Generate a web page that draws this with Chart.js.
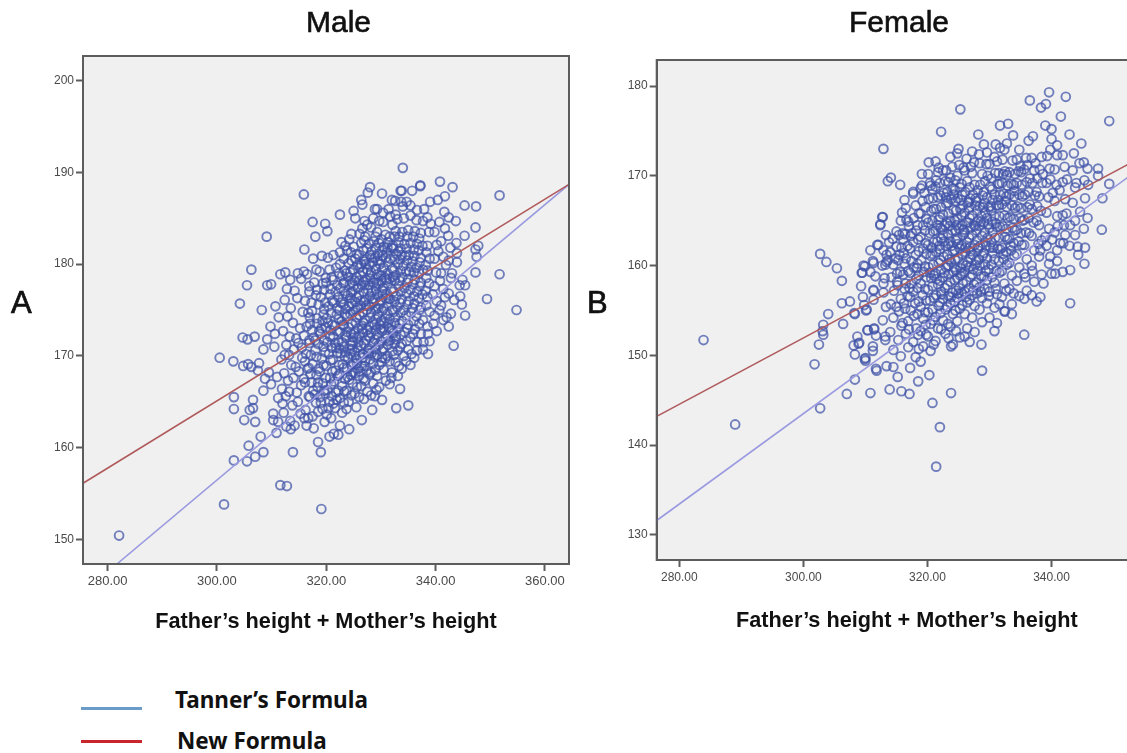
<!DOCTYPE html>
<html>
<head>
<meta charset="utf-8">
<title>Male and female height scatter</title>
<script src="https://cdn.jsdelivr.net/npm/chart.js@4"></script>
<style>
html, body { margin: 0; padding: 0; background: #fff; width: 1127px; height: 753px; overflow: hidden; }
canvas { position: absolute; top: 0; filter: blur(0.4px); }
#maleChart { left: 0; }
#femaleChart { left: 600px; }
.heading { position: absolute; top: 5px; font: 30px "Liberation Sans", sans-serif; color: #111; -webkit-text-stroke: 0.6px #111; white-space: nowrap; }
.letter { position: absolute; font: 31px "Liberation Sans", sans-serif; color: #111; -webkit-text-stroke: 0.7px #111; }
.key { position: absolute; font: bold 22.5px "Noto Sans", sans-serif; color: #111; white-space: nowrap; }
.swatch { position: absolute; left: 81px; width: 61px; height: 3px; }
</style>
</head>
<body>
<canvas id="maleChart" width="600" height="660"></canvas>
<canvas id="femaleChart" width="598" height="660"></canvas>
<div class="heading" style="left:306px">Male</div>
<div class="heading" style="left:849px">Female</div>
<div class="letter" style="left:11px;top:285px">A</div>
<div class="letter" style="left:587px;top:285px">B</div>
<div class="swatch" style="top:707px;background:#6b9bc9"></div>
<div class="key" style="left:175px;top:684px">Tanner’s Formula</div>
<div class="swatch" style="top:740px;background:#c9252c"></div>
<div class="key" style="left:177px;top:725px">New Formula</div>
<script>
const xTitle = "Father’s height + Mother’s height";

// [parents' height sum, child's height]
const malePoints = [
[282.1,150.4],[301.3,153.8],[311.6,155.9],[312.8,155.8],[319.1,153.3],[303.1,158.6],[305.5,158.5],[307,159],[308.5,159.5],[305.8,160.2],
[313.9,159.5],[319,159.5],[318.5,160.6],[308,161.2],[310.9,161.6],[320.6,161.2],[321.4,161.5],[322.2,161.4],[324.2,162],[317.7,162.1],
[316.4,162.4],[313.5,162],[312.7,162.3],[314.2,162.4],[310.3,163],[311.2,162.8],[310.3,163.7],[307,162.8],[305,163],[303.1,164.2],
[306,164.1],[306.6,164.3],[306.6,165.2],[303.1,165.5],[308.5,166.2],[318.5,163.9],[319.7,162.8],[320.9,163.2],[322.5,162.4],[326.5,163],
[328.4,164.1],[332.8,164.3],[335,164.6],[330.2,165.2],[333.5,166.4],[329.2,166.3],[325.5,164.4],[323.7,164.2],[321.6,164.3],[316,163.2],
[316.7,163.2],[334,190.5],[315.9,187.6],[328,188.4],[327.6,187.8],[326.4,187],[326.6,186.5],[330.2,187.7],[333.6,188],[333.8,188],
[332,187],[332.6,186.9],[333.7,186.8],[334.7,186.8],[335.7,188],[337.2,188.6],[337.2,188.5],[340.8,189],[343.1,188.4],[351.7,187.5],
[340.4,187],[341.7,187.4],[345.3,186.4],[347.4,186.3],[341.6,185.7],[343.7,184.7],[347.3,184],[341.7,183.9],[342.3,183.1],[345.3,183.1],
[343.8,182.3],[347.8,182],[347.3,181.6],[347.5,180.8],[343.9,181.2],[343.9,180.2],[347.3,179.1],[351.7,178.9],[344.9,178.3],[344.4,177.7],
[345.4,177.7],[344.5,176.5],[343.4,176.1],[344.8,175.6],[349.4,176.2],[354.8,175],[345.4,174.4],[342.4,173.2],[343.3,171.1],[338.6,170.2],
[309.1,183],[306.3,179.4],[305.5,177.7],[309.2,177.7],[309.9,177.8],[304.2,175.7],[317.5,184.6],[319.8,184.4],[320.2,183.6],[318,183],
[322.5,185.4],[325,185.8],[325.3,185],[329.3,186],[316,181.6],[324.6,183.3],[326.1,183.3],[326.6,183.9],[323.5,182],[322.5,181.3],
[300.5,169.8],[303,169.4],[304.8,168.9],[305.7,169.1],[306.3,168.8],[307.5,168.4],[307.7,169.2],[305.6,171.8],[306.9,172.1],[304.7,172],
[309.2,171.8],[308.5,170.7],[309.5,168.2],[308.8,167.5],[309.9,166.9],[311,167.7],[311.2,165.4],[312,164.8],[310.6,172.4],[311.3,174.2],
[310.7,175.4],[310.5,171],[309.8,173.2],[312.4,170.1],[308.2,175],[311.6,178.9],[312.5,179.1],[313.4,178.3],[314.8,179],[312.8,177.3],
[312.2,163.8],[312.6,165.6],[311.9,166.4],[312.3,168.1],[311.8,169.6],[312.7,171.2],[312.1,172.7],[312.9,174.3],[312.4,176.1],
[313.4,162.9],[313.8,164.6],[313.2,166.1],[314,167.6],[313.6,169],[314.1,170.7],[313.3,172.1],[313.9,173.6],[313.5,175.2],[314.2,177.1],
[315.3,163.7],[314.8,165],[315.4,166.8],[315,168.3],[315.6,169.8],[314.9,171.4],[315.2,173],[315.7,174.8],[314.7,176.3],[315.4,178.4],[315.9,179.2],
[316.2,164.1],[316.8,165.6],[316.1,167.1],[316.6,168.6],[316.3,170.2],[316.9,171.7],[316.4,173.2],[316.7,174.7],[316.1,176],[316.9,177.6],[316.5,178.9],
[317.5,163.4],[318.1,164.9],[317.6,166.2],[318.2,167.9],[317.5,169.1],[318,170.6],[317.7,172],[318.3,173.5],[317.4,174.9],[318.1,176.6],[317.8,178],[318.2,179.4],[317.6,180.6],
[319.3,164.2],[318.9,165.5],[319.4,167],[318.8,168.3],[319.2,169.7],[319.5,171],[318.9,172.4],[319.3,173.8],[319.6,175.1],[319,176.4],[319.4,177.9],[318.8,179.2],[319.2,180.9],
[320.1,163.6],[320.6,165],[320.2,166.3],[320.7,167.6],[320,168.9],[320.5,170.2],[320.2,171.5],[320.8,172.8],[320.1,174.1],[320.4,175.4],[320.7,176.7],[320,178],[320.6,179.4],[320.3,180.7],
[321.3,164.8],[321.8,166],[321.4,167.2],[321.7,168.4],[321.2,169.6],[321.8,170.9],[321.3,172.1],[321.6,173.3],[321.9,174.5],[321.4,175.8],[321.7,177],[321.2,178.3],[321.8,179.6],[321.3,181],
[322.9,163.8],[322.5,165.4],[322.9,166.7],[322.4,168],[323,169.1],[322.6,170.3],[322.9,171.5],[322.5,172.6],[322.8,173.8],[322.4,175],[323,176.2],[322.6,177.4],[322.9,178.7],[322.5,180],[322.8,182.4],
[324.1,165],[323.7,166.2],[324.2,167.4],[323.8,168.6],[324,169.7],[324.3,170.8],[323.7,172],[324.1,173.1],[323.8,174.3],[324.2,175.4],[323.9,176.6],[324.3,177.8],[323.7,179],[324.1,180.1],[323.8,181.5],[324.2,182.7],
[325.2,165.9],[324.8,167],[325.3,168.1],[324.9,169.2],[325.2,170.4],[324.8,171.5],[325.1,172.5],[325.4,173.6],[324.9,174.8],[325.3,175.9],[324.8,177],[325.2,178.2],[324.9,179.4],[325.3,180.6],[325,181.9],
[326,165.5],[326.4,166.7],[326,167.8],[326.5,168.9],[326.1,170],[326.4,171.1],[326,172.2],[326.5,173.3],[326.1,174.4],[326.3,175.5],[326,176.6],[326.5,177.7],[326.2,178.8],[326.4,180],[326,181],[326.4,182.3],
[327.5,166.1],[327.1,167.3],[327.4,168.4],[327.1,169.5],[327.6,170.6],[327.2,171.7],[327.5,172.8],[327.1,173.9],[327.4,175],[327.1,176.1],[327.6,177.2],[327.2,178.3],[327.5,179.4],[327.1,180.5],[327.4,181.7],[327.1,183],[327.5,184.3],
[328.2,165.7],[328.6,167],[328.2,168.2],[328.6,169.2],[328.3,170.3],[328.7,171.4],[328.2,172.5],[328.5,173.6],[328.2,174.7],[328.6,175.8],[328.3,176.9],[328.7,178],[328.2,179.1],[328.5,180.2],[328.3,181.4],[328.7,182.5],[328.2,184],[328.6,185],
[329.7,166.6],[329.3,167.8],[329.7,169],[329.3,170.1],[329.6,171.2],[329.3,172.3],[329.8,173.4],[329.4,174.5],[329.7,175.6],[329.3,176.7],[329.6,177.8],[329.3,178.9],[329.8,180],[329.4,181.1],[329.6,182.3],[329.3,183.5],[329.7,184.7],
[330.9,167.3],[330.5,168.5],[330.8,169.7],[330.4,170.8],[330.9,171.9],[330.5,173],[330.8,174.1],[330.5,175.2],[330.9,176.3],[330.4,177.4],[330.8,178.5],[330.5,179.6],[330.9,180.7],[330.5,181.9],[330.8,183.2],[330.4,184.6],
[331.6,166.9],[332,168.2],[331.6,169.4],[332.1,170.5],[331.7,171.7],[332,172.8],[331.6,174],[332.1,175],[331.7,176.2],[332,177.3],[331.6,178.4],[332.1,179.5],[331.7,180.6],[332,181.8],[331.6,183],[332.1,184.3],[331.7,185.2],
[333.1,167.8],[332.7,169.3],[333.1,170.6],[332.8,171.8],[333.2,173],[332.7,174.2],[333,175.3],[332.8,176.5],[333.2,177.6],[332.7,178.8],[333.1,180],[332.8,181.1],[333.2,182.4],[332.7,183.6],[333,184.9],
[333.8,168.6],[334.2,170],[333.8,171.3],[334.3,172.6],[333.9,173.8],[334.2,175],[333.8,176.2],[334.3,177.4],[333.9,178.6],[334.1,179.8],[333.8,181],[334.3,182.2],[333.9,183.5],[334.2,185],
[335.4,169],[335,170.7],[335.4,172],[335,173.4],[335.5,174.7],[335.1,176],[335.4,177.2],[335,178.4],[335.5,179.7],[335.1,181],[335.4,182.3],[335,183.7],[335.4,185.3],
[336.1,169.8],[336.6,171.5],[336.2,172.9],[336.5,174.3],[336.1,175.7],[336.6,177],[336.2,178.3],[336.5,179.6],[336.1,180.9],[336.6,182.2],[336.2,183.6],[336.5,184.8],
[337.7,170.7],[337.3,172.4],[337.7,173.9],[337.3,175.3],[337.6,176.7],[337.3,178],[337.7,179.4],[337.3,180.7],[337.6,182],[337.3,183.4],[337.7,184.7],
[338.9,171.6],[338.5,173.2],[338.9,174.8],[338.5,176.4],[338.8,177.9],[338.5,179.3],[338.9,180.6],[338.5,182],[338.8,183.5],[338.5,185.1],
[340.2,172.7],[339.8,174.4],[340.2,176],[339.8,177.6],[340.1,179.1],[339.8,180.6],[340.2,182.1],[339.8,183.5],
[341.4,173.9],[341,175.5],[341.4,177.3],[341,179],[341.4,180.8],[341,182.5],
[342.8,174.6],[342.4,176.8],[342.8,178.5],[342.4,180.4],
// thick middle of the cloud
[317,165.5],[317.3,167.1],[316.8,168.7],[317.2,170.1],[316.9,171.4],[317.4,172.8],[317,174.2],[317.3,175.8],[316.9,177],
[318.4,166.6],[318.6,168.6],[318.2,169.9],[318.5,171.3],[318.7,172.7],[318.3,174.1],[318.6,175.6],[318.3,177.2],
[319.6,166.2],[319.9,167.6],[319.5,169],[319.8,170.4],[319.6,171.7],[319.9,173.1],[319.5,174.5],[319.8,175.8],[319.6,177.2],[319.9,178.5],
[320.9,166.9],[321.1,168.3],[320.8,169.5],[321,170.9],[320.7,172.1],[321.1,173.4],[320.9,174.7],[321.1,176],[320.8,177.3],[321,178.6],
[322.1,167.8],[322.3,169],[322,170.3],[322.2,171.5],[322,172.7],[322.3,174],[322,175.2],[322.2,176.4],[322,177.7],[322.3,179],
[323.3,166.1],[323.4,167.5],[323.2,168.7],[323.4,169.9],[323.2,171],[323.5,172.2],[323.2,173.3],[323.4,174.5],[323.2,175.6],[323.5,176.8],[323.3,178],[323.4,179.3],[323.2,180.6],
[324.5,167.9],[324.6,169],[324.4,170.2],[324.6,171.2],[324.5,172.4],[324.7,173.5],[324.4,174.6],[324.6,175.7],[324.5,176.9],[324.7,178],[324.4,179.1],[324.6,180.4],[324.5,181.3],
[325.6,166.6],[325.8,168.6],[325.5,169.7],[325.7,170.9],[325.6,172],[325.8,173],[325.5,174.2],[325.7,175.3],[325.6,176.4],[325.8,177.4],[325.5,178.6],[325.7,179.9],[325.6,181.1],
[326.8,167.5],[326.9,168.9],[326.7,170.2],[326.9,171.3],[326.7,172.5],[326.8,173.6],[326.7,174.7],[326.9,175.9],[326.8,177],[326.9,178.1],[326.7,179.2],[326.9,180.3],[326.8,181.5],[326.9,182.6],
[327.9,168],[328,169.6],[327.8,170.8],[328,172],[327.8,173.2],[328,174.2],[327.9,175.4],[328,176.5],[327.8,177.7],[328,178.8],[327.9,179.9],[328,181],[327.8,182.2],
[329,168.5],[329.1,170.7],[328.9,171.8],[329.1,172.9],[329,174],[329.1,175.1],[328.9,176.2],[329.1,177.3],[329,178.4],[329.1,179.5],[328.9,180.7],[329.1,181.8],[329,183],
[330.1,169.3],[330.2,170.5],[330,171.6],[330.2,172.7],[330.1,173.8],[330.2,174.9],[330,176],[330.2,177.1],[330.1,178.2],[330.2,179.3],[330,180.4],[330.2,181.5],[330.1,182.7],
[331.2,170],[331.3,171.2],[331.1,172.3],[331.3,173.5],[331.2,174.6],[331.3,175.7],[331.1,176.8],[331.3,177.9],[331.2,179],[331.3,180.2],[331.1,181.3],[331.3,182.4],
[332.4,170.1],[332.5,171.3],[332.3,172.5],[332.5,173.6],[332.4,174.8],[332.5,175.9],[332.3,177],[332.5,178.2],[332.4,179.3],[332.5,180.5],[332.3,181.7],[332.5,183],
[333.5,171],[333.6,172.3],[333.4,173.5],[333.6,174.7],[333.5,175.8],[333.6,177],[333.4,178.2],[333.6,179.3],[333.5,180.5],[333.6,181.7],[333.4,183],
[334.7,171.6],[334.8,173],[334.6,174.4],[334.8,175.6],[334.7,176.8],[334.8,178],[334.6,179.2],[334.8,180.4],[334.7,181.7],[334.8,183],
[335.9,172.4],[336,173.8],[335.8,175.2],[336,176.5],[335.9,177.8],[336,179.1],[335.8,180.3],[336,181.6],[335.9,183],
[337,173.5],[337.1,175],[336.9,176.3],[337.1,177.6],[337,179],[337.1,180.2],[336.9,181.5],[337,182.8],
[338.3,175.5],[338.2,177.1],[338.3,178.5],[338.2,179.9],[338.3,181.3],
[323,173.4],[323.8,172.6],[324.9,172],[325.9,171.5],[326.6,172.9],[327.7,172.2],[328.8,173.4],[329.9,172.9],[330.6,173.6],[331.5,173],
[322.7,175.8],[323.6,175.1],[324.4,176.3],[325.4,175],[326.3,176],[327.3,175.5],[328.4,176.2],[329.5,175.2],[330.3,176.7],[331.4,176.2],
[323.1,177.9],[324,178.6],[325,177.6],[326,178.2],[327,177.7],[328.1,178.4],[329.2,177.9],[330,178.8],[331,178.3],[332.2,178.6],
[322.4,170.8],[323.5,170.4],[324.7,170.7],[325.6,169.2],[326.7,169.8],[327.8,170.3],[328.9,169.9],[330.2,169.8],[331.4,171.6],[332.7,172.1],
[326.1,179.6],[327.2,180],[328.3,180.7],[329.4,180.4],[330.3,180.9],[331.2,181.8],[332.2,182],[333.2,181.4],[334.4,180.9],[335.2,179.2],
// lower left arm and upper edge
[314.6,166],[315.9,167.5],[317.9,165.8],[319,164.9],[320.4,164.3],[321.9,165.2],[323.2,164.9],[324.6,165.7],[326.9,165.3],[328.9,165.6],
[313,167.3],[314.4,168.8],[315.5,170.9],[316.1,169.4],[317.1,168],[318.5,167.1],[319.8,165.9],[321,165.6],[322.2,166.2],[323.9,167.7],
[313.2,170.1],[314.5,171.9],[315.9,172.2],[317,173.5],[318,171.7],[319.1,173],[320.3,173.6],[321.6,171.4],[324.9,168.2],[326.2,168.3],
[327,184.7],[328.9,186],[330.4,185.6],[331.4,186],[332.7,185.4],[334,186.3],[335.4,186.4],[336.6,185.9],[337.9,186],[339,186.8],
[340.7,184.6],[342.4,185.1],[339.1,184.4],[340.5,181.4],[341.9,179.9],[343,179],[342.7,181.8],[340.8,178.2],[339.5,176.7],[341.7,176.4],
[338.6,172.4],[339.6,173.5],[340.7,175],[342,174.2],[337.8,171.5],[336.6,170.6],[335.6,170.2],[334.6,169.4],[333.3,168.9],[331.9,167.6]
];

const femalePoints = [
[283.9,151.7],[289,142.3],[302.7,144.1],[301.8,149],[302.5,151.2],[303.2,152.3],[303.1,152.7],[303.2,153.4],[304,154.6],[306.4,153.5],
[308.3,154.6],[302.7,161.3],[303.7,160.4],[305.4,159.7],[306.2,158.3],[306.2,155.8],[307.5,156],[309.3,157.7],[309.6,156.5],[310.2,155.1],
[309.8,155.6],[310.4,152.8],[311.4,152.9],[311.7,152.2],[308.7,152.1],[309,151.4],[308.1,151.1],[308.3,150.1],[311.2,151],[311.2,150.5],
[310,149.7],[310,149.4],[311.7,148.5],[308.3,147.3],[307,145.7],[310.8,145.8],[310.8,161.7],[311.9,162.3],[311.3,160.3],[309.9,159.9],
[309.4,159.2],[310.8,159.3],[311.6,158.8],[311.3,157.2],[311.3,156.2],[321.4,137.6],[322,142],[320.8,144.7],[323.8,145.8],[328.8,148.3],
[339.6,179.3],[342.3,178.8],[336.5,178.4],[339.1,178],[338.3,177.6],[341.5,176.6],[349.3,176.1],[325.3,177.4],[322.2,174.9],[312.9,173],
[333,175.8],[331.7,175.6],[333.8,174.5],[328.2,174.6],[339,175.6],[340,175.2],[340,174.1],[342.9,174.6],[344.8,173.6],[336.3,173.9],
[337,174.4],[329.1,173.5],[331,173.5],[332.8,173.6],[331.7,173.1],[340.9,173.4],[339.8,172.9],[343.6,172.5],[325,173],[320.2,171.5],
[321.8,170.9],[323.7,172.1],[319.1,170.2],[314.1,169.8],[313.6,169.4],[315.6,169],[319.1,168.9],[320.4,169.2],[321.4,169.5],[317.7,168],
[316.3,167.3],[312.7,165.4],[312.4,164.5],[313.3,163.4],[312.1,162.3],[312.9,161.7],[315,163.8],[316,163.6],[315.9,165.9],
[345.2,171.5],[345.8,170.8],[347.5,170.8],[347.5,170],[349.3,169.1],[348.2,167.5],[348.1,164],[345.4,167.5],[342.4,165.8],[345.3,169.5],
[345.9,169],[344.6,166],[345.8,165.3],[345.2,164.1],[343,164.5],[343.8,163.4],[341.4,162.5],[341.9,162.5],[342.9,162.2],[344.2,162.1],
[345.4,162],[344.3,161.2],[345.3,160.2],[343,159.5],[341.8,159.3],[340.6,159.1],[343,155.8],[335.6,152.3],[328.7,151.2],
[330.8,152.7],[326.8,151.5],[323.8,151],[320.3,147.8],[318.5,147.1],[317.1,145.7],[315.8,146],[313.9,146.2],
[315.2,147.6],[318.9,149.3],[317.2,148.6],[313.4,148.8],[311.8,148.3],[314.5,148.7],[309.9,149.6],[308.9,151.3],
[310.3,152.8],[311.4,153],[313.2,151.7],[310.1,155],[308.2,154.7],[311.3,157.3],[309.5,159.2],
[309.7,160],[311.2,160.5],[313.4,160.4],[333.6,154.6],[332.5,154.9],[337.6,156],[338.2,156.5],[335.6,156.3],
[336.8,156.7],[338.7,158],[340,159.1],[340.9,160.5],[339.8,161],[338.2,161.7],[312.4,164.6],[312.8,165.4],[315,162.1],[316.6,165.1],
[317.5,163.6],[313.2,160.1],[313.6,160.6],[315.5,161.2],[315.1,159.1],[312.9,158],
[313.2,152.1],[312.8,153.9],[313.3,155.4],[312.9,157],[313.1,158.6],[312.7,160],[313.4,161.2],
[314.5,150.6],[314,152.6],[314.5,154.2],[314.1,155.7],[314.6,157.2],[314.2,158.7],[314.5,160.1],[314,161.5],[314.4,163],
[315.7,149.9],[315.3,151.7],[315.8,153.3],[315.4,154.9],[315.7,156.3],[315.2,157.8],[315.6,159.3],[315.3,160.6],[315.8,162],[315.4,163.4],[315.7,165],
[316.9,150.9],[316.5,152.4],[316.9,153.8],[316.4,155.2],[316.8,156.6],[316.5,158],[316.9,159.4],[316.5,160.8],[316.8,162.2],[316.4,163.5],[316.9,164.9],[316.5,166.4],
[318.1,149.8],[317.7,151.5],[318.2,153],[317.8,154.4],[318,155.8],[317.7,157.1],[318.2,158.5],[317.8,159.8],[318.1,161.2],[317.7,162.6],[318.2,163.9],[317.8,165.3],[318.1,166.7],[317.7,168.2],
[319.3,151],[318.9,152.7],[319.3,154.1],[318.9,155.4],[319.2,156.7],[318.9,158],[319.4,159.3],[319,160.6],[319.3,161.9],[318.9,163.2],[319.3,164.5],[318.9,165.8],[319.2,167.2],[318.9,168.6],
[320.5,150.5],[320.1,152.1],[320.5,153.5],[320.1,154.8],[320.4,156.1],[320.1,157.3],[320.6,158.6],[320.2,159.8],[320.5,161.1],[320.1,162.3],[320.4,163.6],[320.1,164.8],[320.6,166.1],[320.2,167.4],[320.5,168.9],[320.1,170.2],
[321.3,151.6],[321.7,153],[321.3,154.3],[321.8,155.5],[321.4,156.7],[321.7,157.9],[321.3,159.1],[321.8,160.3],[321.4,161.5],[321.6,162.7],[321.3,163.9],[321.8,165.1],[321.4,166.3],[321.7,167.6],[321.3,168.8],[321.7,170.4],[321.3,171.6],
[322.9,152.4],[322.5,153.9],[322.9,155.1],[322.5,156.3],[322.8,157.5],[322.5,158.7],[323,159.8],[322.6,161],[322.9,162.2],[322.5,163.4],[322.8,164.5],[322.5,165.7],[323,166.9],[322.6,168.1],[322.9,169.4],[322.5,170.6],
[324.1,151.2],[323.7,153.2],[324.1,154.6],[323.7,155.8],[324,157],[323.7,158.2],[324.2,159.3],[323.8,160.4],[324.1,161.6],[323.7,162.7],[324,163.9],[323.7,165],[324.2,166.2],[323.8,167.4],[324.1,168.6],[323.7,169.8],[324,171],
[325.2,152],[324.8,153.8],[325.2,155.2],[324.8,156.4],[325.1,157.5],[324.8,158.6],[325.3,159.7],[324.9,160.8],[325.2,161.9],[324.8,163],[325.1,164.1],[324.8,165.2],[325.3,166.3],[324.9,167.5],[325.2,168.7],[324.8,170],[325.1,171.2],[324.8,172.5],
[326.4,153],[326,154.6],[326.4,155.9],[326,157.1],[326.3,158.2],[326,159.3],[326.5,160.4],[326.1,161.5],[326.4,162.6],[326,163.7],[326.3,164.8],[326,165.9],[326.5,167],[326.1,168.2],[326.4,169.4],[326,170.6],[326.3,171.9],
[327.6,152.6],[327.2,154.2],[327.6,155.5],[327.2,156.7],[327.5,157.9],[327.2,159],[327.7,160.1],[327.3,161.2],[327.6,162.3],[327.2,163.4],[327.5,164.5],[327.2,165.6],[327.7,166.7],[327.3,167.9],[327.6,169],[327.2,170.3],[327.5,171.5],[327.2,172.7],
[328.8,153.7],[328.4,155.1],[328.8,156.4],[328.4,157.6],[328.7,158.8],[328.4,160],[328.9,161.1],[328.5,162.2],[328.8,163.3],[328.4,164.4],[328.7,165.5],[328.4,166.6],[328.9,167.8],[328.5,169],[328.8,170.2],[328.4,171.4],
[330,154.2],[329.6,155.8],[330,157.1],[329.6,158.4],[329.9,159.6],[329.6,160.8],[330.1,162],[329.7,163.1],[330,164.2],[329.6,165.3],[329.9,166.5],[329.6,167.6],[330.1,168.8],[329.7,170],[330,171.3],[329.6,172.6],
[331.2,153.6],[330.8,155.3],[331.2,156.8],[330.8,158.1],[331.1,159.4],[330.8,160.7],[331.3,161.9],[330.9,163.1],[331.2,164.3],[330.8,165.5],[331.1,166.7],[330.8,167.9],[331.3,169.1],[330.9,170.3],[331.2,171.6],
[332.4,154.9],[332,156.5],[332.4,158],[332,159.4],[332.3,160.7],[332,162],[332.5,163.2],[332.1,164.4],[332.4,165.6],[332,166.8],[332.3,168],[332,169.2],[332.5,170.5],[332.1,171.8],[332.4,172.9],
[333.6,155.7],[333.2,157.4],[333.6,158.9],[333.2,160.3],[333.5,161.7],[333.2,163],[333.7,164.2],[333.3,165.4],[333.6,166.7],[333.2,167.9],[333.5,169.1],[333.2,170.4],[333.7,171.7],
[334.8,156.6],[334.4,158.3],[334.8,159.8],[334.4,161.3],[334.7,162.7],[334.4,164],[334.9,165.3],[334.5,166.6],[334.8,167.9],[334.4,169.2],[334.7,170.5],[334.4,171.8],[334.8,172.9],
[336,157.2],[335.6,159.1],[336,160.7],[335.6,162.3],[335.9,163.7],[335.6,165.1],[336.1,166.5],[335.7,167.9],[336,169.3],[335.6,170.7],[335.9,172],
[337.2,158.2],[336.8,160],[337.2,161.7],[336.8,163.3],[337.1,164.8],[336.8,166.3],[337.3,167.8],[336.9,169.2],[337.2,170.6],[336.8,172],
[338.4,159],[338,161],[338.4,162.8],[338,164.5],[338.3,166.1],[338,167.7],[338.5,169.2],[338.1,170.7],[338.4,172.1],
[339.6,160.2],[339.2,162.2],[339.6,164.1],[339.2,165.9],[339.5,167.6],[339.2,169.2],[339.7,170.8],[339.3,172.2],
[340.9,161.7],[340.5,163.7],[340.9,165.5],[340.5,167.2],[340.8,169],[340.5,170.7],[340.9,172.3],
[342.2,163.4],[341.8,165.6],[342.2,167.4],[341.8,169.3],[342.1,171],[341.8,172.3],
[343.8,165],[343.4,167],[343.8,168.7],[343.4,170.6],
// thick middle of the cloud
[316.2,155.8],[316.3,157.4],[316.1,159],[316.3,160.2],
[317.3,155],[317.2,156.5],[317.4,158],[317.2,159.2],[317.4,160.5],[317.2,161.9],[317.3,163.3],
[318.5,152.3],[318.4,154.6],[318.6,156],[318.4,157.5],[318.6,158.9],[318.4,160.2],[318.6,161.6],[318.5,162.9],[318.4,164.5],
[319.7,153.4],[319.6,154.8],[319.8,156.1],[319.6,157.4],[319.8,158.7],[319.6,159.9],[319.8,161.3],[319.7,162.5],[319.6,163.9],[319.8,165.2],[319.7,166.5],
[320.9,153.9],[320.8,155.1],[321,156.4],[320.8,157.7],[321,158.9],[320.9,160.1],[320.8,161.3],[321,162.6],[320.9,163.8],[320.8,165],[321,166.3],[320.9,167.5],
[322.1,154.7],[322,155.9],[322.2,157.1],[322,158.3],[322.2,159.5],[322.1,160.6],[322,161.8],[322.2,163],[322.1,164.2],[322,165.4],[322.2,166.5],[322.1,167.8],
[323.3,153.5],[323.2,155.4],[323.4,156.6],[323.2,157.8],[323.4,159],[323.3,160],[323.2,161.2],[323.4,162.4],[323.3,163.5],[323.2,164.7],[323.4,165.8],[323.3,167],[323.2,168.2],[323.4,169.3],
[324.5,155],[324.4,156],[324.6,157.2],[324.4,158.4],[324.6,159.5],[324.5,160.6],[324.4,161.7],[324.6,162.8],[324.5,163.9],[324.4,165],[324.6,166.1],[324.5,167.2],[324.4,168.4],
[325.6,155.6],[325.5,156.9],[325.7,158],[325.5,159.1],[325.7,160.2],[325.6,161.3],[325.5,162.3],[325.7,163.4],[325.6,164.5],[325.5,165.6],[325.7,166.7],[325.6,167.9],[325.5,169.1],
[326.8,156.2],[326.7,157.5],[326.9,158.7],[326.7,159.8],[326.9,160.9],[326.8,162],[326.7,163.1],[326.9,164.2],[326.8,165.3],[326.7,166.4],[326.9,167.5],[326.8,168.7],
[328,156.9],[327.9,158.1],[328.1,159.4],[327.9,160.6],[328.1,161.7],[328,162.8],[327.9,163.9],[328.1,165],[328,166.1],[327.9,167.2],[328.1,168.4],
[329.2,157.4],[329.1,158.8],[329.3,160.1],[329.1,161.4],[329.3,162.6],[329.2,163.7],[329.1,164.8],[329.3,165.9],[329.2,167],[329.1,168.2],[329.3,169.4],
[330.4,158.7],[330.3,160.1],[330.5,161.4],[330.3,162.6],[330.5,163.7],[330.4,164.9],[330.3,166.1],[330.5,167.3],[330.4,168.5],[330.3,169.7],
[331.6,159.2],[331.5,160.5],[331.7,161.8],[331.5,163.1],[331.7,164.3],[331.6,165.5],[331.5,166.7],[331.7,167.9],[331.6,169.1],[331.5,170.3],
[332.8,160.1],[332.7,161.5],[332.9,162.9],[332.7,164.1],[332.9,165.3],[332.8,166.5],[332.7,167.7],[332.9,168.9],[332.8,170.1],
[334,161.1],[333.9,162.5],[334.1,163.9],[333.9,165.2],[334.1,166.4],[334,167.7],[333.9,169],[334.1,170.2],
[335.2,162.3],[335.1,163.6],[335.3,165],[335.1,166.4],[335.3,167.7],[335.2,169],[335.1,170.4],
[336.4,163.6],[336.3,165.3],[336.5,166.8],[336.3,168.2],[336.5,169.7],
[337.6,165],[337.7,166.6],[337.6,168.2],[337.7,169.7],
[320.4,159.2],[321.5,158.5],[322.7,159.2],[323.5,160.7],[324.3,159.8],[325.3,158.9],[326.2,160],[327.4,159.6],[328.3,160.7],[329.4,159.4],
[320.7,162],[321.9,162.2],[322.7,162.7],[323.9,162.2],[324.9,162.4],[326.1,162],[327,161.6],[328.2,162],[329.5,162.2],[330.6,162],
[321.6,164.5],[322.4,164],[323.6,164.4],[324.7,164.5],[325.8,164],[326.6,164.8],[327.7,164.4],[328.6,164.9],[329.8,164.6],[331,164.7],
[322.3,156.8],[323.8,156.5],[325,156.9],[326.2,156.5],[327.4,157.2],[328.6,157.1],[329.9,156.6],[331,157.4],[332.2,161.3],[333.4,162.2],
[323,167.6],[324.2,167.9],[325.4,167.3],[326.7,167.1],[327.8,167.5],[329,166.5],[330.2,166.6],[331.4,167.3],[332.6,167.2],[334,168.3],
// left arm, lower arm and right side of the cloud
[315,155.4],[316,153.6],[317,152.9],[318.6,150.7],[319.8,152.3],[321,151.2],[322.2,152.9],[323.4,151.9],[324.6,152.7],[326,152.1],
[315.1,158.2],[316.2,161.4],[317.1,157.5],[318.3,159.7],[314.8,160.8],[313.8,162.6],[316.1,162.9],[317,164.4],[318.6,165.8],[319.5,168.1],
[320.8,168.5],[322,169.2],[323,170.6],[324.5,169.5],[325.8,170.9],[327,171],[328.3,172.4],[329.5,171.3],[330.8,172.1],[332.2,170.2],
[335,171.1],[336.1,171.2],[337.4,171.4],[338.6,170.2],[339.8,169.6],[340.2,168.1],[341.3,168.4],[342.5,169.6],[344,169.2],[344.5,171.4],
[335.8,158.7],[336.9,159.4],[337.9,162.4],[339,163.2],[340.1,162.9],[341,164.4],[342,164.5],[333.9,156.9],[332.7,157.2],[331.6,155.7]
];

// line ends, read where the lines meet the frame
const maleTannerX = [281.7, 364.4];
const maleTannerY = [147.3, 188.7];
const maleNewX = [275.5, 364.4];
const maleNewY = [156.1, 188.7];
const femaleTannerX = [276.35, 357];
const femaleTannerY = [131.6, 172.2];
const femaleNewX = [276.35, 357];
const femaleNewY = [143.2, 173];

function pairs(xs, ys) {
    return xs.map((x, i) => ({x: x, y: ys[i]}));
}

// grey plot panel and the dark frame round it
const framePlugin = {
    id: 'frame',
    beforeDraw(chart) {
        let a = chart.chartArea;
        chart.ctx.save();
        chart.ctx.fillStyle = '#f0f0f0';
        chart.ctx.fillRect(a.left, a.top, a.width, a.height);
        chart.ctx.restore();
    },
    afterDraw(chart) {
        let a = chart.chartArea;
        chart.ctx.save();
        chart.ctx.strokeStyle = '#5c5c5c';
        chart.ctx.lineWidth = 2;
        chart.ctx.strokeRect(a.left, a.top, a.width, a.height);
        chart.ctx.restore();
    }
};

function makeChart(id, opts) {
    return new Chart(document.getElementById(id), {
        type: 'scatter',
        data: {
            datasets: [
                {
                    data: opts.points.map(p => ({x: p[0], y: p[1]})),
                    pointStyle: 'circle',
                    pointRadius: 4.4,
                    pointBorderWidth: 1.9,
                    pointBackgroundColor: 'rgba(0,0,0,0)',
                    pointBorderColor: 'rgba(62,82,168,0.72)',
                    order: 3
                },
                {
                    data: opts.tanner,
                    showLine: true,
                    pointRadius: 0,
                    borderColor: '#9a9ae0',
                    borderWidth: 1.6,
                    order: 2
                },
                {
                    data: opts.newLine,
                    showLine: true,
                    pointRadius: 0,
                    borderColor: '#b05a5c',
                    borderWidth: 1.6,
                    order: 1
                }
            ]
        },
        options: {
            responsive: false,
            animation: false,
            devicePixelRatio: 1,
            layout: {padding: {top: opts.top, right: opts.rightPad}},
            plugins: {
                legend: {display: false},
                tooltip: {enabled: false}
            },
            scales: {
                x: {
                    type: 'linear',
                    min: opts.xMin,
                    max: opts.xMax,
                    afterFit(scale) { scale.height = opts.bottomH; },
                    grid: {drawOnChartArea: false, tickLength: 7, tickWidth: 2, tickColor: '#5c5c5c'},
                    border: {color: '#5c5c5c', width: 2},
                    ticks: {
                        stepSize: 20,
                        includeBounds: false,
                        autoSkip: false,
                        maxRotation: 0,
                        color: '#4a4a4a',
                        padding: 3,
                        font: {family: '"Liberation Sans", sans-serif', size: opts.xTickSize},
                        callback: v => v.toFixed(2)
                    },
                    title: {
                        display: true,
                        text: xTitle,
                        color: '#111',
                        font: {family: '"Liberation Sans", sans-serif', size: 21.7, weight: 'bold', lineHeight: 1},
                        padding: {top: 0, bottom: opts.titleGap}
                    }
                },
                y: {
                    type: 'linear',
                    min: opts.yMin,
                    max: opts.yMax,
                    afterFit(scale) { scale.width = opts.leftW; },
                    grid: {drawOnChartArea: false, tickLength: 7, tickWidth: 2, tickColor: '#5c5c5c'},
                    border: {color: '#5c5c5c', width: 2},
                    ticks: {
                        stepSize: 10,
                        includeBounds: false,
                        autoSkip: false,
                        color: '#4a4a4a',
                        padding: 2,
                        font: {family: '"Liberation Sans", sans-serif', size: 12}
                    }
                }
            }
        },
        plugins: [framePlugin]
    });
}

makeChart('maleChart', {
    points: malePoints,
    tanner: pairs(maleTannerX, maleTannerY), newLine: pairs(maleNewX, maleNewY),
    xMin: 275.5, xMax: 364.4, yMin: 147.3, yMax: 202.7,
    top: 56, leftW: 83, bottomH: 96, rightPad: 31, xTickSize: 13, titleGap: 27
});

makeChart('femaleChart', {
    points: femalePoints,
    tanner: pairs(femaleTannerX, femaleTannerY), newLine: pairs(femaleNewX, femaleNewY),
    xMin: 276.35, xMax: 357, yMin: 127.2, yMax: 182.9,
    top: 60, leftW: 56.7, bottomH: 100, rightPad: 41, xTickSize: 12, titleGap: 28
});
</script>
</body>
</html>
